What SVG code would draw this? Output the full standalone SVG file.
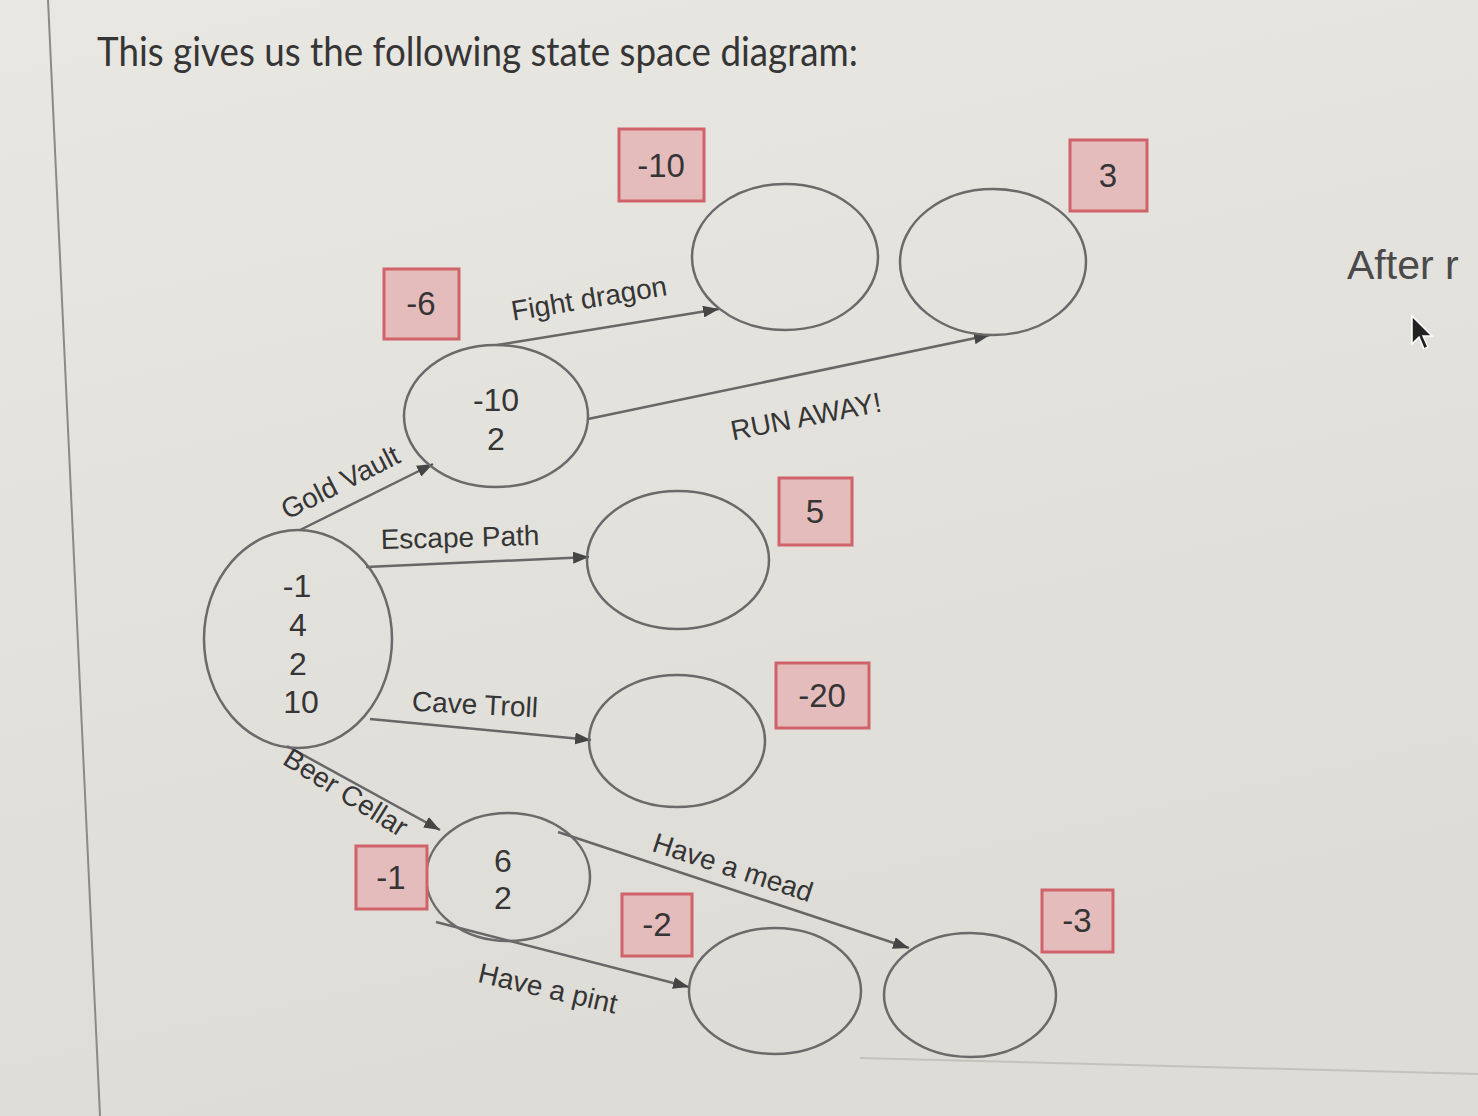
<svg xmlns="http://www.w3.org/2000/svg" width="1478" height="1116" viewBox="0 0 1478 1116">
<defs>
<linearGradient id="bg" x1="0" y1="0" x2="0.3" y2="1">
<stop offset="0" stop-color="#e9e7e2"/>
<stop offset="1" stop-color="#dedcd6"/>
</linearGradient>
<marker id="arr" markerUnits="userSpaceOnUse" markerWidth="18" markerHeight="12" refX="16" refY="6" orient="auto">
<path d="M0,0 L16,6 L0,12 z" fill="#454545"/>
</marker>
<style>
.st ellipse{fill:none;stroke:#6a6a6a;stroke-width:2.5}
.st text,.rw text,.el{font-family:"Liberation Sans",Arial,sans-serif;fill:#353535}
.st text{font-size:32px;text-anchor:middle}
.rw rect{fill:#e5bcbc;stroke:#d0626a;stroke-width:3}
.rw text{font-size:33px;text-anchor:middle}
.edges path{fill:none;stroke:#676767;stroke-width:2.5;marker-end:url(#arr)}
.el{font-size:28px;text-anchor:middle}
</style>
</defs>
<rect width="1478" height="1116" fill="url(#bg)"/>
<line x1="48" y1="0" x2="100" y2="1116" stroke="#8a8a8a" stroke-width="2"/>
<line x1="860" y1="1058" x2="1478" y2="1074" stroke="#c4c2bd" stroke-width="2"/>
<text x="97" y="66" font-family="Lato,'Open Sans',sans-serif" font-size="40" fill="#353535" textLength="761" lengthAdjust="spacingAndGlyphs">This gives us the following state space diagram:</text>
<text x="1347" y="279" font-family="'Liberation Sans',Arial,sans-serif" font-size="41" fill="#4a4a4a">After r</text>
<polygon points="1412,316 1412,344 1419,337 1424,349 1428,347 1423,336 1432,336" fill="#222" stroke="#fff" stroke-width="1.5"/>

<g class="edges" id="connectors">
<path d="M300,530 L433,464"/>
<path d="M497,345 L719,309"/>
<path d="M588,419 L990,335"/>
<path d="M366,567 L589,557"/>
<path d="M370,719 L591,740"/>
<path d="M287,746 L440,830"/>
<path d="M558,832 L909,948"/>
<path d="M436,922 L689,987"/>
<text class="el" x="340" y="492" transform="rotate(-27 340 482)">Gold Vault</text>
<text class="el" x="589" y="308" transform="rotate(-9.5 589 298)">Fight dragon</text>
<text class="el" x="806" y="426" transform="rotate(-11 806 416)">RUN AWAY!</text>
<text class="el" x="460" y="547" transform="rotate(-1.5 460 537)">Escape Path</text>
<text class="el" x="475" y="714" transform="rotate(3 475 704)">Cave Troll</text>
<text class="el" x="346" y="802" transform="rotate(32 346 792)">Beer Cellar</text>
<text class="el" x="733" y="877" transform="rotate(18 733 867)">Have a mead</text>
<text class="el" x="548" y="998" transform="rotate(13 548 988)">Have a pint</text>
</g>

<g class="st" id="root">
<ellipse cx="298" cy="639" rx="94" ry="109"/>
<text x="297" y="597">-1</text>
<text x="298" y="636">4</text>
<text x="298" y="675">2</text>
<text x="301" y="713">10</text>
</g>
<g class="st" id="goldvault">
<ellipse cx="496" cy="416" rx="92" ry="71"/>
<text x="496" y="411">-10</text>
<text x="496" y="450">2</text>
</g>
<g class="st" id="fightdragon"><ellipse cx="785" cy="257" rx="93" ry="73"/></g>
<g class="st" id="runaway"><ellipse cx="993" cy="262" rx="93" ry="73"/></g>
<g class="st" id="escapepath"><ellipse cx="678" cy="560" rx="91" ry="69"/></g>
<g class="st" id="cavetroll"><ellipse cx="677" cy="741" rx="88" ry="66"/></g>
<g class="st" id="beercellar">
<ellipse cx="508" cy="877" rx="82" ry="64"/>
<text x="503" y="872">6</text>
<text x="503" y="909">2</text>
</g>
<g class="st" id="pint"><ellipse cx="775" cy="991" rx="86" ry="63"/></g>
<g class="st" id="mead"><ellipse cx="970" cy="995" rx="86" ry="62"/></g>

<g class="rw" id="r-fight"><rect x="619" y="129" width="85" height="72"/><text x="661" y="177">-10</text></g>
<g class="rw" id="r-run"><rect x="1070" y="140" width="77" height="71"/><text x="1108" y="187">3</text></g>
<g class="rw" id="r-gold"><rect x="384" y="269" width="75" height="70"/><text x="421" y="315">-6</text></g>
<g class="rw" id="r-escape"><rect x="779" y="478" width="73" height="67"/><text x="815" y="523">5</text></g>
<g class="rw" id="r-troll"><rect x="776" y="663" width="93" height="65"/><text x="822" y="707">-20</text></g>
<g class="rw" id="r-beer"><rect x="356" y="846" width="71" height="63"/><text x="391" y="889">-1</text></g>
<g class="rw" id="r-pint"><rect x="622" y="894" width="70" height="62"/><text x="657" y="936">-2</text></g>
<g class="rw" id="r-mead"><rect x="1042" y="890" width="71" height="62"/><text x="1077" y="932">-3</text></g>
</svg>
